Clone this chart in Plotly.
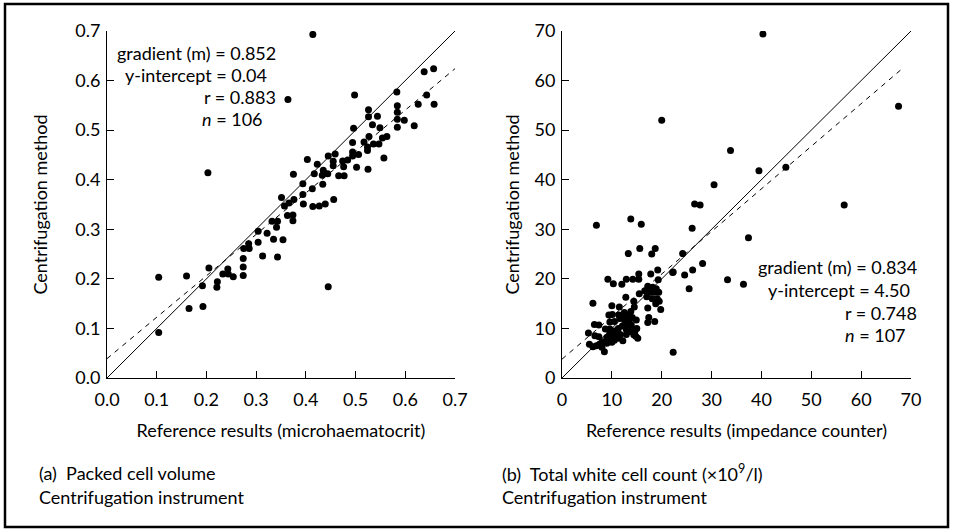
import plotly.graph_objects as go

# ---------------- Data: (a) Packed cell volume ----------------
pcv_ref = [0.104, 0.104, 0.160, 0.165, 0.193, 0.192, 0.205, 0.203, 0.222, 0.221,
           0.233, 0.243, 0.244, 0.254, 0.274, 0.274, 0.274, 0.275, 0.286, 0.285,
           0.304, 0.304, 0.313, 0.322, 0.335, 0.332, 0.343, 0.341, 0.343, 0.354,
           0.351, 0.357, 0.366, 0.376, 0.363, 0.374, 0.374, 0.375, 0.364, 0.394,
           0.394, 0.395, 0.414, 0.427, 0.439, 0.456, 0.413, 0.417, 0.403, 0.423,
           0.414, 0.434, 0.433, 0.435, 0.444, 0.445, 0.459, 0.455, 0.455, 0.466,
           0.477, 0.476, 0.474, 0.484, 0.494, 0.494, 0.494, 0.506, 0.502, 0.525,
           0.496, 0.498, 0.517, 0.524, 0.524, 0.536, 0.547, 0.527, 0.554, 0.563,
           0.557, 0.549, 0.534, 0.526, 0.544, 0.526, 0.583, 0.584, 0.584, 0.584,
           0.584, 0.598, 0.618, 0.626, 0.638, 0.657, 0.643, 0.658, 0.445]
pcv_cent = [0.203, 0.092, 0.206, 0.140, 0.144, 0.186, 0.222, 0.414, 0.194, 0.183,
            0.210, 0.220, 0.210, 0.204, 0.207, 0.224, 0.241, 0.261, 0.261, 0.271,
            0.274, 0.296, 0.246, 0.292, 0.280, 0.316, 0.316, 0.304, 0.244, 0.279,
            0.364, 0.347, 0.353, 0.360, 0.328, 0.329, 0.317, 0.411, 0.562, 0.392,
            0.370, 0.351, 0.346, 0.347, 0.351, 0.360, 0.382, 0.412, 0.441, 0.431,
            0.693, 0.391, 0.409, 0.419, 0.412, 0.448, 0.452, 0.437, 0.428, 0.408,
            0.408, 0.426, 0.438, 0.440, 0.475, 0.456, 0.448, 0.451, 0.425, 0.421,
            0.504, 0.571, 0.476, 0.466, 0.459, 0.472, 0.472, 0.487, 0.484, 0.487,
            0.444, 0.505, 0.511, 0.527, 0.528, 0.541, 0.577, 0.549, 0.536, 0.522,
            0.506, 0.520, 0.509, 0.552, 0.618, 0.624, 0.571, 0.552, 0.184]
pcv_identity_x = [0.0, 0.7]
pcv_identity_y = [0.0, 0.7]
pcv_fit_x = [0.0, 0.7]
pcv_fit_y = [0.039, 0.624]
pcv_ticks = [0.0, 0.1, 0.2, 0.3, 0.4, 0.5, 0.6, 0.7]
pcv_ticktext = ["0.0", "0.1", "0.2", "0.3", "0.4", "0.5", "0.6", "0.7"]

# ---------------- Data: (b) Total white cell count ----------------
wbc_ref = [40.3, 20.0, 67.5, 33.8, 39.5, 44.9, 30.5, 26.6, 27.7, 56.6,
           26.1, 37.4, 6.9, 13.8, 15.9, 13.3, 15.6, 18.0, 18.7, 24.2,
           28.2, 22.2, 24.6, 26.2, 25.5, 33.2, 36.4, 22.3,
           9.2, 10.3, 12.0, 12.9, 14.2, 15.4, 15.4, 17.8, 19.2, 22.3, 19.3,
           6.2, 10.0, 11.5, 12.8, 14.4, 15.5, 16.6, 17.2, 17.6, 17.8, 18.2, 18.6,
           18.9, 19.4, 17.0, 18.1, 19.1, 19.5, 18.8, 17.2, 19.8, 17.4, 18.6, 17.2,
           5.3, 6.6, 5.5, 6.2, 6.9, 6.5, 7.4, 7.4, 7.5, 8.1, 8.0, 8.5, 9.0, 9.0,
           8.7, 9.6, 9.6, 9.8, 10.0, 10.5, 10.6, 10.5, 11.1, 11.3, 11.4, 11.7,
           12.1, 12.2, 10.5, 9.6, 9.4, 10.1, 11.4, 11.6, 12.4, 12.5, 12.6, 12.9,
           12.9, 13.0, 13.2, 13.5, 13.8, 13.9, 13.7, 14.1, 14.2, 14.6, 14.4, 14.8,
           15.2, 14.9, 15.0, 14.5]
wbc_cent = [69.4, 52.0, 54.8, 45.9, 41.8, 42.5, 39.0, 35.1, 34.9, 34.9,
            30.2, 28.3, 30.8, 32.1, 31.0, 25.1, 26.1, 25.0, 26.1, 25.1,
            23.1, 21.3, 20.8, 21.8, 18.0, 19.8, 18.9, 5.2,
            19.9, 19.0, 18.9, 19.9, 19.9, 19.9, 21.0, 21.0, 21.8, 21.4, 19.8,
            15.1, 14.6, 14.3, 16.3, 15.5, 17.0, 17.6, 18.5, 17.9, 17.3, 18.3, 17.3,
            18.0, 17.3, 16.4, 16.0, 16.0, 15.5, 15.0, 14.1, 13.8, 12.2, 11.4, 11.2,
            9.1, 8.5, 6.8, 6.3, 6.5, 10.8, 10.7, 8.3, 6.8, 7.3, 6.2, 5.3, 7.0, 8.2,
            9.9, 9.9, 9.1, 7.9, 7.2, 9.5, 8.4, 7.6, 9.2, 10.0, 8.0, 8.8,
            10.5, 7.5, 11.4, 11.3, 12.7, 12.8, 12.7, 12.0, 12.2, 13.2, 11.5, 9.8,
            8.8, 10.8, 12.5, 11.6, 13.4, 10.7, 9.4, 12.2, 9.9, 9.4, 8.7, 8.4,
            8.0, 11.7, 10.0, 14.3]
wbc_identity_x = [0, 70]
wbc_identity_y = [0, 70]
wbc_fit_x = [0, 68]
wbc_fit_y = [3.8, 62.2]
wbc_ticks = [0, 10, 20, 30, 40, 50, 60, 70]
wbc_ticktext = ["0", "10", "20", "30", "40", "50", "60", "70"]

# ---------------- Layout geometry ----------------
W, H = 953, 529
FONT = "Lato"


def fx(px):
    return px / W


def fy(py):
    return 1 - py / H


fig = go.Figure()

dot = dict(color="black", size=7)
fig.add_trace(go.Scatter(x=pcv_ref, y=pcv_cent, mode="markers", marker=dot,
                         xaxis="x", yaxis="y", showlegend=False))
fig.add_trace(go.Scatter(x=pcv_identity_x, y=pcv_identity_y, mode="lines",
                         line=dict(color="black", width=1), xaxis="x", yaxis="y",
                         showlegend=False))
fig.add_trace(go.Scatter(x=pcv_fit_x, y=pcv_fit_y, mode="lines",
                         line=dict(color="black", width=1, dash="5px,5px"),
                         xaxis="x", yaxis="y", showlegend=False))

fig.add_trace(go.Scatter(x=wbc_ref, y=wbc_cent, mode="markers", marker=dot,
                         xaxis="x2", yaxis="y2", showlegend=False))
fig.add_trace(go.Scatter(x=wbc_identity_x, y=wbc_identity_y, mode="lines",
                         line=dict(color="black", width=1), xaxis="x2", yaxis="y2",
                         showlegend=False))
fig.add_trace(go.Scatter(x=wbc_fit_x, y=wbc_fit_y, mode="lines",
                         line=dict(color="black", width=1, dash="5px,5px"),
                         xaxis="x2", yaxis="y2", showlegend=False))

axis_common = dict(showgrid=False, zeroline=False, showline=True, linecolor="black",
                   linewidth=1, ticks="inside", ticklen=7, tickcolor="black",
                   tickwidth=1, tickfont=dict(family=FONT, size=18, color="black"),
                   mirror=False, automargin=False)

ydom = [fy(378), fy(31)]
TFONT = dict(family=FONT, size=18, color="black")

fig.update_layout(
    template="none",
    width=W, height=H,
    margin=dict(l=0, r=0, t=0, b=0, pad=0, autoexpand=False),
    paper_bgcolor="white", plot_bgcolor="white",
    font=dict(family=FONT, color="black", size=18),
    xaxis=dict(domain=[fx(107), fx(455)], range=[0, 0.7], tickvals=pcv_ticks,
               ticktext=pcv_ticktext, anchor="y", ticklabelstandoff=5,
               title=dict(text="Reference results (microhaematocrit)",
                          font=TFONT, standoff=15),
               **axis_common),
    yaxis=dict(domain=ydom, range=[0, 0.7], tickvals=pcv_ticks, ticktext=pcv_ticktext,
               anchor="x", ticklabelstandoff=2,
               title=dict(text="Centrifugation method", font=TFONT, standoff=22),
               **axis_common),
    xaxis2=dict(domain=[fx(562), fx(911)], range=[0, 70], tickvals=wbc_ticks,
                ticktext=wbc_ticktext, anchor="y2", ticklabelstandoff=5,
                title=dict(text="Reference results (impedance counter)",
                           font=TFONT, standoff=15),
                **axis_common),
    yaxis2=dict(domain=ydom, range=[0, 70], tickvals=wbc_ticks, ticktext=wbc_ticktext,
                anchor="x2", ticklabelstandoff=2,
                title=dict(text="Centrifugation method", font=TFONT, standoff=10),
                **axis_common),
)


def note(text, px, py, anchor="left"):
    fig.add_annotation(text=text, x=fx(px), y=fy(py), xref="paper", yref="paper",
                       xanchor=anchor, yanchor="middle", showarrow=False,
                       font=TFONT)


# statistics (a)
note("gradient (m) = 0.852", 278, 53, "right")
note("y-intercept = 0.04", 269, 75, "right")
note("r = 0.883", 278, 97, "right")
note("<i>n</i> = 106", 265, 119, "right")

# statistics (b)
note("gradient (m) = 0.834", 919, 267, "right")
note("y-intercept = 4.50", 912, 290, "right")
note("r = 0.748", 919, 313, "right")
note("<i>n</i> = 107", 908, 335, "right")

# captions
note("(a)  Packed cell volume", 37, 473)
note("Centrifugation instrument", 37, 497)
note("(b)  Total white cell count (×10<sup>9</sup>/l)", 500, 473)
note("Centrifugation instrument", 500, 497)

# outer frame
fig.add_shape(type="rect", xref="paper", yref="paper",
              x0=fx(5), x1=fx(948), y0=fy(527), y1=fy(4),
              line=dict(color="black", width=2.5), fillcolor="rgba(0,0,0,0)")

fig.write_html("out.html")
